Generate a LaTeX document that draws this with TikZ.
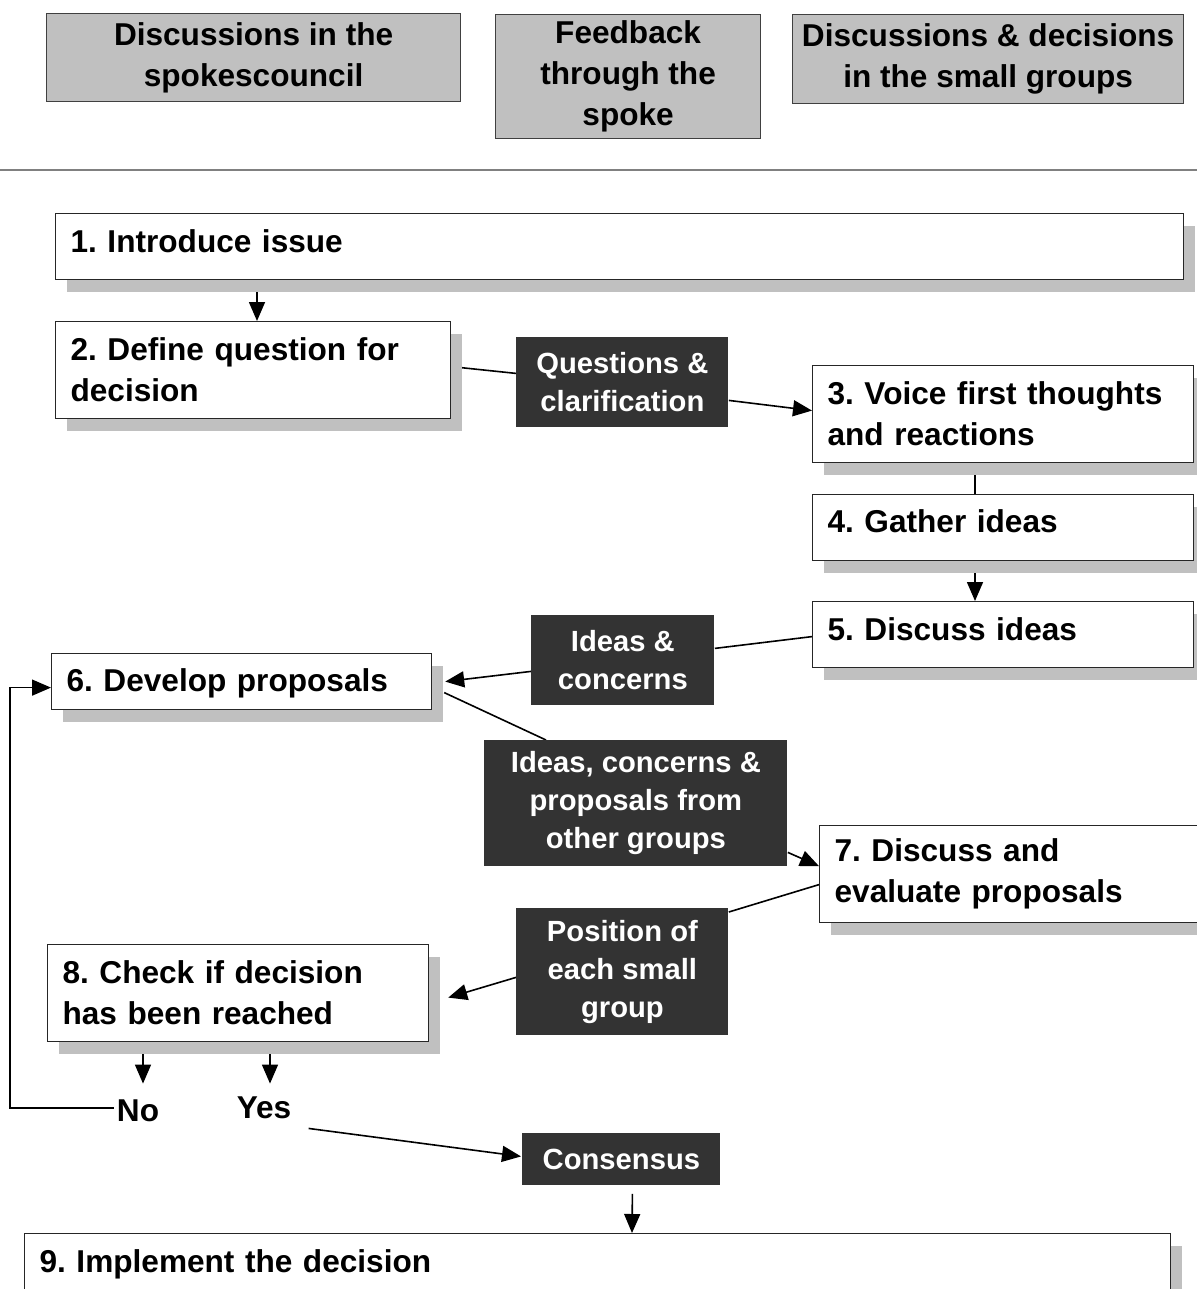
\documentclass[tikz,border=0pt]{standalone}
\usepackage{fontspec}
\setmainfont{Liberation Sans}
\usetikzlibrary{calc,shadows,arrows.meta}
\definecolor{shgray}{HTML}{C0C0C0}
\definecolor{darkbox}{HTML}{333333}
\pgfdeclarelayer{bg}
\pgfsetlayers{bg,main}
\frenchspacing
\begin{document}
\frenchspacing
\begin{tikzpicture}[x=0.5pt,y=-0.5pt,
  every node/.style={font=\fontsize{15.8}{20.5}\selectfont\bfseries},
  hdr/.style={draw=black!75, line width=0.6pt, fill=shgray, anchor=north west, inner sep=0pt, align=center},
  stepbox/.style={draw=black!85, line width=0.6pt, fill=white, anchor=north west, inner xsep=7.5pt, inner ysep=0pt, align=left,
    drop shadow={shadow xshift=5.5pt,shadow yshift=-6pt,fill=shgray,opacity=1}},
  dark/.style={fill=darkbox, text=white, anchor=north west, inner sep=0pt, align=center, font=\fontsize{14.6}{19}\selectfont\bfseries},
  conn/.style={line width=0.8pt, black},
  arr/.style={conn, -{Triangle[length=9.5pt,width=8pt]}},
]
\useasboundingbox (0,0) rectangle (1197,1289);
\clip (0,0) rectangle (1197,1289);

% header
\node[hdr, minimum width=207pt, minimum height=44pt] (h1) at (46,13) {Discussions in the\\spokescouncil};
\node[hdr, minimum width=132.5pt, minimum height=62pt] (h2) at (495,14) {Feedback\\through the\\spoke};
\node[hdr, minimum width=195.5pt, minimum height=44.5pt] (h3) at (792,14) {Discussions \& decisions\\in the small groups};
\coordinate (sepL) at (0,170);
\coordinate (sepR) at (1197,170);
\draw[black!50, line width=0.75pt] (sepL) -- (sepR);

% steps
\node[stepbox, text width=549pt, text height=19.5pt, text depth=13.5pt] (b1) at (55,213) {1. Introduce issue};
\node[stepbox, text width=182.5pt, minimum height=48.5pt] (b2) at (55,321) {2. Define question for\\decision};
\node[stepbox, text width=175.5pt, minimum height=48.5pt] (b3) at (812,365) {3. Voice first thoughts\\and reactions};
\node[stepbox, text width=175.5pt, text height=19pt, text depth=14pt] (b4) at (812,494) {4. Gather ideas};
\node[stepbox, text width=175.5pt, text height=19.5pt, text depth=13.5pt] (b5) at (812,601) {5. Discuss ideas};
\node[stepbox, text width=175pt, text height=19pt, text depth=9pt] (b6) at (51,653) {6. Develop proposals};
\node[stepbox, text width=185pt, minimum height=48.5pt] (b7) at (819,825) {7. Discuss and\\evaluate proposals};
\node[stepbox, text width=175.5pt, minimum height=48.5pt] (b8) at (47,944) {8. Check if decision\\has been reached};
\node[stepbox, text width=558pt, text height=19.5pt, text depth=30.5pt] (b9) at (24,1233) {9. Implement the decision};

% dark labels
\node[dark, minimum width=106pt, minimum height=45pt] (q) at (516,337) {Questions \&\\clarification};
\node[dark, minimum width=91.5pt, minimum height=45pt] (ic) at (531,615) {Ideas \&\\concerns};
\node[dark, minimum width=151.5pt, minimum height=63pt] (icp) at (484,740) {Ideas, concerns \&\\proposals from\\other groups};
\node[dark, minimum width=106pt, minimum height=63.5pt] (pos) at (516,908) {Position of\\each small\\group};
\node[dark, minimum width=99pt, minimum height=26pt] (cons) at (522,1133) {Consensus};

\node[inner sep=0pt] (no) at (138,1111) {No};
\node[inner sep=0pt] (yes) at (264,1108) {Yes};
\coordinate (fb) at (10,1108);

\begin{pgfonlayer}{bg}
\draw[arr] ($(b1.south west)+(202,0)$) -- ($(b2.north west)+(202,0)$);
\draw[conn] ($(b2.east)+(0,-3.5)$) -- ($(q.west)+(0,-9)$);
\draw[arr] ($(q.east)+(0,18)$) -- ($(b3.west)+(0,-3.5)$);
\draw[conn] ($(b3.south west)+(163,0)$) -- ($(b4.north west)+(163,0)$);
\draw[arr] ($(b4.south west)+(163,0)$) -- ($(b5.north west)+(163,0)$);
\draw[conn] ($(b5.west)+(0,2)$) -- ($(ic.east)+(0,-12)$);
\draw[arr] ($(ic.west)+(0,11)$) -- ($(b6.east)+(13,0)$);
\draw[conn] ($(b6.east)+(12,11)$) -- ($(icp.north west)+(62,0)$);
\draw[arr] ($(icp.east)+(0,49)$) -- ($(b7.west)+(0,-8)$);
\draw[conn] ($(b7.west)+(0,10.5)$) -- ($(pos.north east)+(0,4)$);
\draw[arr] ($(pos.west)+(0,5.5)$) -- ($(b8.east)+(19,4.5)$);
\draw[arr] ($(b8.south west)+(96,0)$) -- ($(no.north)+(5,-16)$);
\draw[arr] ($(b8.south west)+(223,0)$) -- ($(yes.north)+(6,-13)$);
\draw[arr] ($(no.west)+(-3,-3)$) -- (fb) |- ($(b6.west)+(0,6)$);
\draw[arr] ($(yes.south east)+(17,9)$) -- ($(cons.west)+(-1,-3)$);
\draw[arr] ($(cons.south)+(11,8)$) -- ($(b9.north west)+(608,0)$);
\end{pgfonlayer}
\end{tikzpicture}
\end{document}
